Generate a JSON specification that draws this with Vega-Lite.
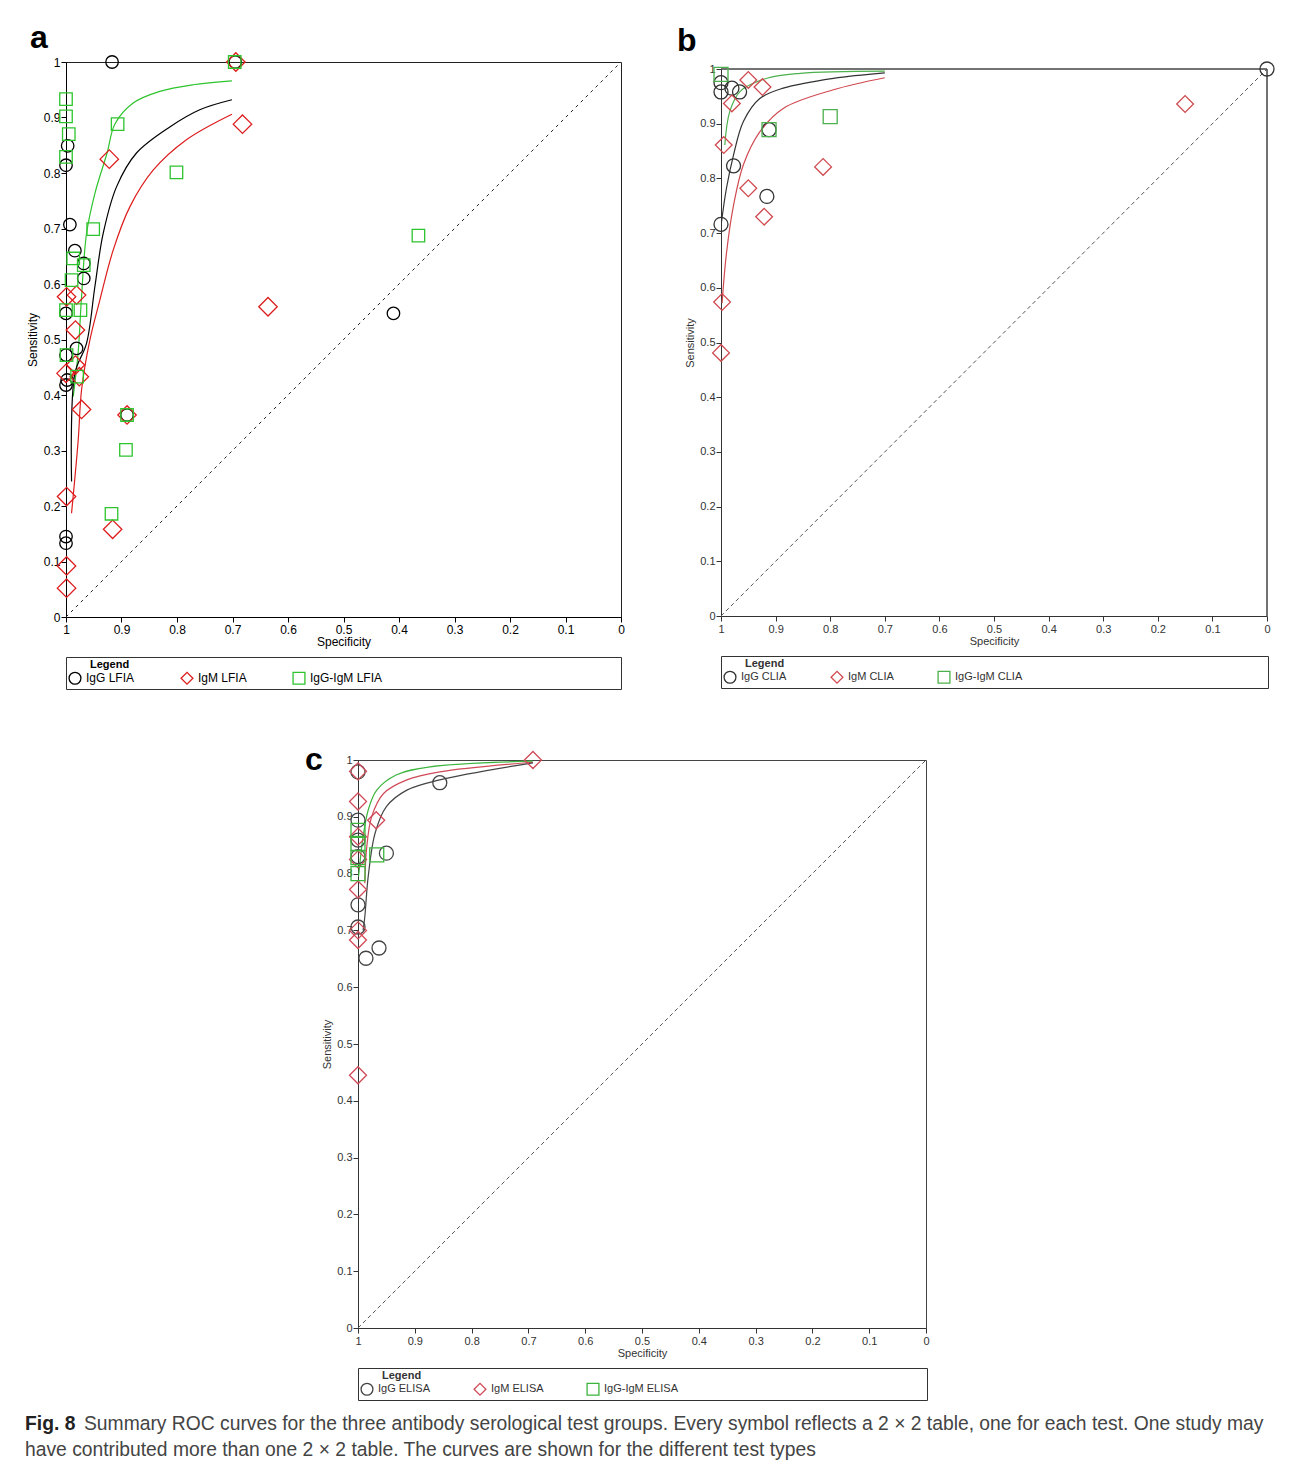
{
  "$schema": "https://vega.github.io/schema/vega-lite/v6.json",
  "background": "white",
  "padding": {"left": 25, "top": 21, "right": 0, "bottom": 0},
  "autosize": {"type": "pad"},
  "config": {
    "font": "Liberation Sans",
    "view": {"stroke": "#333"},
    "axis": {"grid": false, "domainColor": "#000", "tickColor": "#000", "labelColor": "#000", "titleColor": "#000", "labelFontSize": 12, "titleFontSize": 12, "titleFontWeight": "normal", "tickSize": 5, "labelPadding": 2, "labelOverlap": false, "labelFlush": false, "labelFont": "Liberation Sans", "titleFont": "Liberation Sans"},
    "legend": {"orient": "bottom", "direction": "horizontal", "strokeColor": "#333", "padding": 2, "offset": 10, "titleFontSize": 11, "titleFontWeight": "bold", "titleColor": "#000", "titlePadding": 1, "labelFontSize": 12, "labelColor": "#000", "symbolSize": 140, "symbolStrokeWidth": 1.3, "gridAlign": "all", "columnPadding": 19, "titleLimit": 2000, "labelLimit": 300},
    "title": {"anchor": "start", "frame": "group", "fontSize": 32, "fontWeight": "bold", "color": "#000", "font": "Liberation Sans"}
  },
  "datasets": {
    "diag": [{"spec": 1, "sens": 0}, {"spec": 0, "sens": 1}],
    "ptsA": [
      {"test": "IgG LFIA", "spec": 0.917, "sens": 1.0},
      {"test": "IgG LFIA", "spec": 0.695, "sens": 1.0},
      {"test": "IgG LFIA", "spec": 0.997, "sens": 0.849},
      {"test": "IgG LFIA", "spec": 1.0, "sens": 0.814},
      {"test": "IgG LFIA", "spec": 0.993, "sens": 0.707},
      {"test": "IgG LFIA", "spec": 0.984, "sens": 0.66},
      {"test": "IgG LFIA", "spec": 0.968, "sens": 0.637},
      {"test": "IgG LFIA", "spec": 0.968, "sens": 0.61},
      {"test": "IgG LFIA", "spec": 1.0, "sens": 0.547},
      {"test": "IgG LFIA", "spec": 0.981, "sens": 0.484},
      {"test": "IgG LFIA", "spec": 1.0, "sens": 0.472},
      {"test": "IgG LFIA", "spec": 0.998, "sens": 0.427},
      {"test": "IgG LFIA", "spec": 1.0, "sens": 0.418},
      {"test": "IgG LFIA", "spec": 0.89, "sens": 0.364},
      {"test": "IgG LFIA", "spec": 1.0, "sens": 0.145},
      {"test": "IgG LFIA", "spec": 1.0, "sens": 0.133},
      {"test": "IgG LFIA", "spec": 0.41, "sens": 0.547},
      {"test": "IgM LFIA", "spec": 0.694, "sens": 1.0},
      {"test": "IgM LFIA", "spec": 0.682, "sens": 0.888},
      {"test": "IgM LFIA", "spec": 0.922, "sens": 0.825},
      {"test": "IgM LFIA", "spec": 0.636, "sens": 0.559},
      {"test": "IgM LFIA", "spec": 0.999, "sens": 0.577},
      {"test": "IgM LFIA", "spec": 0.981, "sens": 0.58},
      {"test": "IgM LFIA", "spec": 0.983, "sens": 0.517},
      {"test": "IgM LFIA", "spec": 0.983, "sens": 0.454},
      {"test": "IgM LFIA", "spec": 1.0, "sens": 0.439},
      {"test": "IgM LFIA", "spec": 0.976, "sens": 0.433},
      {"test": "IgM LFIA", "spec": 0.972, "sens": 0.374},
      {"test": "IgM LFIA", "spec": 0.89, "sens": 0.364},
      {"test": "IgM LFIA", "spec": 0.999, "sens": 0.217},
      {"test": "IgM LFIA", "spec": 0.916, "sens": 0.158},
      {"test": "IgM LFIA", "spec": 0.999, "sens": 0.092},
      {"test": "IgM LFIA", "spec": 0.999, "sens": 0.052},
      {"test": "IgG-IgM LFIA", "spec": 0.696, "sens": 1.0},
      {"test": "IgG-IgM LFIA", "spec": 1.0, "sens": 0.933},
      {"test": "IgG-IgM LFIA", "spec": 1.0, "sens": 0.902},
      {"test": "IgG-IgM LFIA", "spec": 0.995, "sens": 0.87},
      {"test": "IgG-IgM LFIA", "spec": 1.0, "sens": 0.829},
      {"test": "IgG-IgM LFIA", "spec": 0.907, "sens": 0.888},
      {"test": "IgG-IgM LFIA", "spec": 0.801, "sens": 0.801},
      {"test": "IgG-IgM LFIA", "spec": 0.951, "sens": 0.699},
      {"test": "IgG-IgM LFIA", "spec": 0.987, "sens": 0.646},
      {"test": "IgG-IgM LFIA", "spec": 0.968, "sens": 0.634},
      {"test": "IgG-IgM LFIA", "spec": 0.99, "sens": 0.607},
      {"test": "IgG-IgM LFIA", "spec": 1.0, "sens": 0.553},
      {"test": "IgG-IgM LFIA", "spec": 0.974, "sens": 0.553},
      {"test": "IgG-IgM LFIA", "spec": 0.999, "sens": 0.472},
      {"test": "IgG-IgM LFIA", "spec": 0.98, "sens": 0.433},
      {"test": "IgG-IgM LFIA", "spec": 0.89, "sens": 0.364},
      {"test": "IgG-IgM LFIA", "spec": 0.892, "sens": 0.301},
      {"test": "IgG-IgM LFIA", "spec": 0.918, "sens": 0.186},
      {"test": "IgG-IgM LFIA", "spec": 0.365, "sens": 0.687}
    ],
    "curA": [
      {"test": "IgG-IgM LFIA", "spec": 0.987, "sens": 0.397},
      {"test": "IgG-IgM LFIA", "spec": 0.978, "sens": 0.478},
      {"test": "IgG-IgM LFIA", "spec": 0.972, "sens": 0.577},
      {"test": "IgG-IgM LFIA", "spec": 0.963, "sens": 0.691},
      {"test": "IgG-IgM LFIA", "spec": 0.948, "sens": 0.763},
      {"test": "IgG-IgM LFIA", "spec": 0.926, "sens": 0.836},
      {"test": "IgG-IgM LFIA", "spec": 0.912, "sens": 0.888},
      {"test": "IgG-IgM LFIA", "spec": 0.879, "sens": 0.926},
      {"test": "IgG-IgM LFIA", "spec": 0.831, "sens": 0.947},
      {"test": "IgG-IgM LFIA", "spec": 0.771, "sens": 0.959},
      {"test": "IgG-IgM LFIA", "spec": 0.701, "sens": 0.966},
      {"test": "IgG LFIA", "spec": 0.990, "sens": 0.244},
      {"test": "IgG LFIA", "spec": 0.984, "sens": 0.439},
      {"test": "IgG LFIA", "spec": 0.963, "sens": 0.493},
      {"test": "IgG LFIA", "spec": 0.948, "sens": 0.595},
      {"test": "IgG LFIA", "spec": 0.933, "sens": 0.691},
      {"test": "IgG LFIA", "spec": 0.909, "sens": 0.775},
      {"test": "IgG LFIA", "spec": 0.873, "sens": 0.836},
      {"test": "IgG LFIA", "spec": 0.813, "sens": 0.883},
      {"test": "IgG LFIA", "spec": 0.759, "sens": 0.914},
      {"test": "IgG LFIA", "spec": 0.701, "sens": 0.932},
      {"test": "IgM LFIA", "spec": 0.990, "sens": 0.187},
      {"test": "IgM LFIA", "spec": 0.978, "sens": 0.319},
      {"test": "IgM LFIA", "spec": 0.972, "sens": 0.409},
      {"test": "IgM LFIA", "spec": 0.957, "sens": 0.499},
      {"test": "IgM LFIA", "spec": 0.939, "sens": 0.571},
      {"test": "IgM LFIA", "spec": 0.915, "sens": 0.661},
      {"test": "IgM LFIA", "spec": 0.885, "sens": 0.739},
      {"test": "IgM LFIA", "spec": 0.843, "sens": 0.805},
      {"test": "IgM LFIA", "spec": 0.783, "sens": 0.860},
      {"test": "IgM LFIA", "spec": 0.701, "sens": 0.906}
    ],
    "ptsB": [
      {"test": "IgG CLIA", "spec": 1.0, "sens": 0.975},
      {"test": "IgG CLIA", "spec": 1.0, "sens": 0.958},
      {"test": "IgG CLIA", "spec": 0.98, "sens": 0.965},
      {"test": "IgG CLIA", "spec": 0.966, "sens": 0.958},
      {"test": "IgG CLIA", "spec": 0.912, "sens": 0.889},
      {"test": "IgG CLIA", "spec": 0.977, "sens": 0.823},
      {"test": "IgG CLIA", "spec": 0.916, "sens": 0.767},
      {"test": "IgG CLIA", "spec": 1.0, "sens": 0.716},
      {"test": "IgG CLIA", "spec": 0.0, "sens": 1.0},
      {"test": "IgM CLIA", "spec": 0.95, "sens": 0.98},
      {"test": "IgM CLIA", "spec": 0.924, "sens": 0.967},
      {"test": "IgM CLIA", "spec": 0.98, "sens": 0.937},
      {"test": "IgM CLIA", "spec": 0.995, "sens": 0.861},
      {"test": "IgM CLIA", "spec": 0.813, "sens": 0.821},
      {"test": "IgM CLIA", "spec": 0.95, "sens": 0.782},
      {"test": "IgM CLIA", "spec": 0.921, "sens": 0.73},
      {"test": "IgM CLIA", "spec": 0.998, "sens": 0.574},
      {"test": "IgM CLIA", "spec": 1.0, "sens": 0.481},
      {"test": "IgM CLIA", "spec": 0.15, "sens": 0.936},
      {"test": "IgG-IgM CLIA", "spec": 1.0, "sens": 0.99},
      {"test": "IgG-IgM CLIA", "spec": 0.912, "sens": 0.889},
      {"test": "IgG-IgM CLIA", "spec": 0.80, "sens": 0.913}
    ],
    "curB": [
      {"test": "IgG-IgM CLIA", "spec": 0.993, "sens": 0.861},
      {"test": "IgG-IgM CLIA", "spec": 0.984, "sens": 0.922},
      {"test": "IgG-IgM CLIA", "spec": 0.965, "sens": 0.959},
      {"test": "IgG-IgM CLIA", "spec": 0.916, "sens": 0.983},
      {"test": "IgG-IgM CLIA", "spec": 0.855, "sens": 0.992},
      {"test": "IgG-IgM CLIA", "spec": 0.70, "sens": 0.996},
      {"test": "IgG CLIA", "spec": 0.999, "sens": 0.721},
      {"test": "IgG CLIA", "spec": 0.990, "sens": 0.782},
      {"test": "IgG CLIA", "spec": 0.977, "sens": 0.843},
      {"test": "IgG CLIA", "spec": 0.959, "sens": 0.904},
      {"test": "IgG CLIA", "spec": 0.929, "sens": 0.946},
      {"test": "IgG CLIA", "spec": 0.886, "sens": 0.965},
      {"test": "IgG CLIA", "spec": 0.794, "sens": 0.983},
      {"test": "IgG CLIA", "spec": 0.70, "sens": 0.993},
      {"test": "IgM CLIA", "spec": 0.998, "sens": 0.572},
      {"test": "IgM CLIA", "spec": 0.990, "sens": 0.663},
      {"test": "IgM CLIA", "spec": 0.977, "sens": 0.751},
      {"test": "IgM CLIA", "spec": 0.959, "sens": 0.825},
      {"test": "IgM CLIA", "spec": 0.929, "sens": 0.885},
      {"test": "IgM CLIA", "spec": 0.886, "sens": 0.928},
      {"test": "IgM CLIA", "spec": 0.794, "sens": 0.962},
      {"test": "IgM CLIA", "spec": 0.70, "sens": 0.984}
    ],
    "ptsC": [
      {"test": "IgG ELISA", "spec": 1.0, "sens": 0.979},
      {"test": "IgG ELISA", "spec": 1.0, "sens": 0.894},
      {"test": "IgG ELISA", "spec": 1.0, "sens": 0.859},
      {"test": "IgG ELISA", "spec": 1.0, "sens": 0.83},
      {"test": "IgG ELISA", "spec": 0.95, "sens": 0.836},
      {"test": "IgG ELISA", "spec": 1.0, "sens": 0.745},
      {"test": "IgG ELISA", "spec": 1.0, "sens": 0.706},
      {"test": "IgG ELISA", "spec": 0.963, "sens": 0.669},
      {"test": "IgG ELISA", "spec": 0.986, "sens": 0.651},
      {"test": "IgG ELISA", "spec": 0.856, "sens": 0.96},
      {"test": "IgM ELISA", "spec": 1.0, "sens": 0.98},
      {"test": "IgM ELISA", "spec": 1.0, "sens": 0.927},
      {"test": "IgM ELISA", "spec": 0.968, "sens": 0.894},
      {"test": "IgM ELISA", "spec": 1.0, "sens": 0.865},
      {"test": "IgM ELISA", "spec": 1.0, "sens": 0.825},
      {"test": "IgM ELISA", "spec": 1.0, "sens": 0.772},
      {"test": "IgM ELISA", "spec": 1.0, "sens": 0.70},
      {"test": "IgM ELISA", "spec": 1.0, "sens": 0.683},
      {"test": "IgM ELISA", "spec": 1.0, "sens": 0.445},
      {"test": "IgM ELISA", "spec": 0.692, "sens": 1.0},
      {"test": "IgG-IgM ELISA", "spec": 1.0, "sens": 0.876},
      {"test": "IgG-IgM ELISA", "spec": 1.0, "sens": 0.853},
      {"test": "IgG-IgM ELISA", "spec": 1.0, "sens": 0.828},
      {"test": "IgG-IgM ELISA", "spec": 1.0, "sens": 0.80},
      {"test": "IgG-IgM ELISA", "spec": 0.967, "sens": 0.833}
    ],
    "curC": [
      {"test": "IgG-IgM ELISA", "spec": 0.999, "sens": 0.795},
      {"test": "IgG-IgM ELISA", "spec": 0.991, "sens": 0.865},
      {"test": "IgG-IgM ELISA", "spec": 0.982, "sens": 0.912},
      {"test": "IgG-IgM ELISA", "spec": 0.967, "sens": 0.947},
      {"test": "IgG-IgM ELISA", "spec": 0.932, "sens": 0.974},
      {"test": "IgG-IgM ELISA", "spec": 0.873, "sens": 0.988},
      {"test": "IgG-IgM ELISA", "spec": 0.692, "sens": 0.998},
      {"test": "IgM ELISA", "spec": 0.988, "sens": 0.783},
      {"test": "IgM ELISA", "spec": 0.985, "sens": 0.842},
      {"test": "IgM ELISA", "spec": 0.976, "sens": 0.900},
      {"test": "IgM ELISA", "spec": 0.955, "sens": 0.941},
      {"test": "IgM ELISA", "spec": 0.914, "sens": 0.965},
      {"test": "IgM ELISA", "spec": 0.856, "sens": 0.979},
      {"test": "IgM ELISA", "spec": 0.692, "sens": 0.996},
      {"test": "IgG ELISA", "spec": 0.991, "sens": 0.700},
      {"test": "IgG ELISA", "spec": 0.988, "sens": 0.724},
      {"test": "IgG ELISA", "spec": 0.982, "sens": 0.795},
      {"test": "IgG ELISA", "spec": 0.970, "sens": 0.871},
      {"test": "IgG ELISA", "spec": 0.950, "sens": 0.918},
      {"test": "IgG ELISA", "spec": 0.914, "sens": 0.947},
      {"test": "IgG ELISA", "spec": 0.856, "sens": 0.965},
      {"test": "IgG ELISA", "spec": 0.692, "sens": 0.995}
    ],
    "caption": [
      {"line": 1, "part": "label", "text": "Fig. 8"},
      {"line": 1, "part": "body", "text": "Summary ROC curves for the three antibody serological test groups. Every symbol reflects a 2 × 2 table, one for each test. One study may"},
      {"line": 2, "part": "body", "text": "have contributed more than one 2 × 2 table. The curves are shown for the different test types"}
    ]
  },
  "columns": 1,
  "align": "none",
  "spacing": 10,
  "resolve": {"scale": {"color": "independent", "shape": "independent"}, "legend": {"color": "independent", "shape": "independent"}},
  "concat": [
    {
      "columns": 1,
      "align": "none",
      "spacing": 53,
      "resolve": {"scale": {"color": "independent", "shape": "independent"}, "legend": {"color": "independent", "shape": "independent"}},
      "concat": [
        {
          "columns": 2,
          "align": "none",
          "spacing": 52,
          "resolve": {"scale": {"color": "independent", "shape": "independent"}, "legend": {"color": "independent", "shape": "independent"}},
          "concat": [
            {
              "width": 555, "height": 555,
              "title": {"text": "a", "dx": -36, "offset": -5},
              "view": {"stroke": "#222"},
              "encoding": {
                "x": {"field": "spec", "type": "quantitative", "scale": {"domain": [0, 1], "reverse": true, "nice": false, "zero": false}, "axis": {"title": "Specificity", "values": [0, 0.1, 0.2, 0.3, 0.4, 0.5, 0.6, 0.7, 0.8, 0.9, 1], "format": "~g", "titlePadding": 1}},
                "y": {"field": "sens", "type": "quantitative", "scale": {"domain": [0, 1], "nice": false, "zero": false}, "axis": {"title": "Sensitivity", "values": [0, 0.1, 0.2, 0.3, 0.4, 0.5, 0.6, 0.7, 0.8, 0.9, 1], "format": "~g", "titlePadding": 4, "labelPadding": 1}}
              },
              "layer": [
                {"data": {"name": "diag"}, "mark": {"type": "line", "color": "#222", "strokeWidth": 1, "strokeDash": [3, 4]}, "encoding": {}},
                {"data": {"name": "curA"}, "mark": {"type": "line", "strokeWidth": 1.2, "interpolate": "catmull-rom"},
                 "encoding": {"detail": {"field": "test", "type": "nominal"}, "stroke": {"condition": [{"test": "datum.test == 'IgM LFIA'", "value": "#dd1c1c"}, {"test": "datum.test == 'IgG-IgM LFIA'", "value": "#2ec42e"}], "value": "#000000"}}},
                {"data": {"name": "ptsA"}, "mark": {"type": "point", "filled": false, "opacity": 1, "strokeWidth": 1.3},
                 "encoding": {
                   "color": {"field": "test", "type": "nominal", "scale": {"domain": ["IgG LFIA", "IgM LFIA", "IgG-IgM LFIA"], "range": ["#000000", "#dd1c1c", "#2ec42e"]}, "legend": {"title": "\u200b\u2003\u2003Legend\u2003\u2003\u2003\u2003\u2003\u2003\u2003\u2003\u2003\u2003\u2003\u2003\u2003\u2003\u2003\u2003\u2003\u2003\u2003\u2003\u2003\u2003\u2003\u2003\u2003\u2003\u2003\u2003\u2003\u2003\u2003\u2003\u2003\u2003\u2003\u2003\u2003\u2003\u2003\u2003\u2003\u2003\u2003\u2003\u2002\u200b"}},
                   "shape": {"field": "test", "type": "nominal", "scale": {"domain": ["IgG LFIA", "IgM LFIA", "IgG-IgM LFIA"], "range": ["circle", "diamond", "square"]}, "legend": {"title": "\u200b\u2003\u2003Legend\u2003\u2003\u2003\u2003\u2003\u2003\u2003\u2003\u2003\u2003\u2003\u2003\u2003\u2003\u2003\u2003\u2003\u2003\u2003\u2003\u2003\u2003\u2003\u2003\u2003\u2003\u2003\u2003\u2003\u2003\u2003\u2003\u2003\u2003\u2003\u2003\u2003\u2003\u2003\u2003\u2003\u2003\u2003\u2003\u2002\u200b"}},
                   "size": {"condition": {"test": "datum.test == 'IgM LFIA'", "value": 340}, "value": 156}
                 }}
              ]
            },
            {
              "width": 546, "height": 554,
              "title": {"text": "b", "dx": -44, "offset": 1},
              "view": {"stroke": null},
              "encoding": {
                "x": {"field": "spec", "type": "quantitative", "scale": {"domain": [0, 1], "reverse": true, "nice": false, "zero": false}, "axis": {"title": "Specificity", "values": [0, 0.1, 0.2, 0.3, 0.4, 0.5, 0.6, 0.7, 0.8, 0.9, 1], "format": "~g", "titlePadding": 1, "labelFontSize": 11, "titleFontSize": 11, "labelColor": "#333", "titleColor": "#333", "domainColor": "#333", "tickColor": "#333"}},
                "y": {"field": "sens", "type": "quantitative", "scale": {"domain": [0, 1], "range": [554, 7], "nice": false, "zero": false}, "axis": {"title": "Sensitivity", "values": [0, 0.1, 0.2, 0.3, 0.4, 0.5, 0.6, 0.7, 0.8, 0.9, 1], "format": "~g", "titlePadding": 4, "labelPadding": 1, "labelFontSize": 11, "titleFontSize": 11, "labelColor": "#333", "titleColor": "#333", "domainColor": "#333", "tickColor": "#333"}}
              },
              "layer": [
                {"data": {"name": "diag"}, "mark": {"type": "rule", "color": "#444", "strokeWidth": 1}, "encoding": {"y": {"datum": 1, "type": "quantitative"}, "x": {"datum": 1, "type": "quantitative"}, "x2": {"datum": 0}}},
                {"data": {"name": "diag"}, "mark": {"type": "rule", "color": "#444", "strokeWidth": 1}, "encoding": {"x": {"datum": 0, "type": "quantitative"}, "y": {"datum": 0, "type": "quantitative"}, "y2": {"datum": 1}}},
                {"data": {"name": "diag"}, "mark": {"type": "line", "color": "#555", "strokeWidth": 1, "strokeDash": [4, 3]}, "encoding": {}},
                {"data": {"name": "curB"}, "mark": {"type": "line", "strokeWidth": 1.2, "interpolate": "catmull-rom"},
                 "encoding": {"detail": {"field": "test", "type": "nominal"}, "stroke": {"condition": [{"test": "datum.test == 'IgM CLIA'", "value": "#d04a50"}, {"test": "datum.test == 'IgG-IgM CLIA'", "value": "#4cb04c"}], "value": "#333333"}}},
                {"data": {"name": "ptsB"}, "mark": {"type": "point", "filled": false, "opacity": 1, "strokeWidth": 1.3},
                 "encoding": {
                   "color": {"field": "test", "type": "nominal", "scale": {"domain": ["IgG CLIA", "IgM CLIA", "IgG-IgM CLIA"], "range": ["#333333", "#d04a50", "#4cb04c"]}, "legend": {"title": "\u200b\u2003\u2003Legend\u2003\u2003\u2003\u2003\u2003\u2003\u2003\u2003\u2003\u2003\u2003\u2003\u2003\u2003\u2003\u2003\u2003\u2003\u2003\u2003\u2003\u2003\u2003\u2003\u2003\u2003\u2003\u2003\u2003\u2003\u2003\u2003\u2003\u2003\u2003\u2003\u2003\u2003\u2003\u2003\u2003\u2003\u2003\u2002\u2005\u200b", "labelFontSize": 11, "labelColor": "#333", "titleColor": "#333"}},
                   "shape": {"field": "test", "type": "nominal", "scale": {"domain": ["IgG CLIA", "IgM CLIA", "IgG-IgM CLIA"], "range": ["circle", "diamond", "square"]}, "legend": {"title": "\u200b\u2003\u2003Legend\u2003\u2003\u2003\u2003\u2003\u2003\u2003\u2003\u2003\u2003\u2003\u2003\u2003\u2003\u2003\u2003\u2003\u2003\u2003\u2003\u2003\u2003\u2003\u2003\u2003\u2003\u2003\u2003\u2003\u2003\u2003\u2003\u2003\u2003\u2003\u2003\u2003\u2003\u2003\u2003\u2003\u2003\u2003\u2002\u2005\u200b", "labelFontSize": 11, "labelColor": "#333", "titleColor": "#333"}},
                   "size": {"condition": {"test": "datum.test == 'IgM CLIA'", "value": 280}, "value": 196}
                 }}
              ]
            }
          ]
        },
        {
          "columns": 2,
          "align": "none",
          "spacing": 0,
          "resolve": {"scale": {"color": "independent", "shape": "independent"}, "legend": {"color": "independent", "shape": "independent"}},
          "concat": [
            {"width": 238, "height": 1, "data": {"values": []}, "mark": {"type": "point", "opacity": 0}, "view": {"stroke": null}},
            {
              "width": 568, "height": 568,
              "title": {"text": "c", "dx": -53, "offset": -28},
              "view": {"stroke": "#444"},
              "encoding": {
                "x": {"field": "spec", "type": "quantitative", "scale": {"domain": [0, 1], "reverse": true, "nice": false, "zero": false}, "axis": {"title": "Specificity", "values": [0, 0.1, 0.2, 0.3, 0.4, 0.5, 0.6, 0.7, 0.8, 0.9, 1], "format": "~g", "titlePadding": 1, "labelFontSize": 11, "titleFontSize": 11, "labelColor": "#333", "titleColor": "#333", "domainColor": "#333", "tickColor": "#333"}},
                "y": {"field": "sens", "type": "quantitative", "scale": {"domain": [0, 1], "nice": false, "zero": false}, "axis": {"title": "Sensitivity", "values": [0, 0.1, 0.2, 0.3, 0.4, 0.5, 0.6, 0.7, 0.8, 0.9, 1], "format": "~g", "titlePadding": 4, "labelPadding": 1, "labelFontSize": 11, "titleFontSize": 11, "labelColor": "#333", "titleColor": "#333", "domainColor": "#333", "tickColor": "#333"}}
              },
              "layer": [
                {"data": {"name": "diag"}, "mark": {"type": "line", "color": "#555", "strokeWidth": 1, "strokeDash": [4, 3]}, "encoding": {}},
                {"data": {"name": "curC"}, "mark": {"type": "line", "strokeWidth": 1.2, "interpolate": "catmull-rom"},
                 "encoding": {"detail": {"field": "test", "type": "nominal"}, "stroke": {"condition": [{"test": "datum.test == 'IgM ELISA'", "value": "#d04a58"}, {"test": "datum.test == 'IgG-IgM ELISA'", "value": "#3cb43c"}], "value": "#444444"}}},
                {"data": {"name": "ptsC"}, "mark": {"type": "point", "filled": false, "opacity": 1, "strokeWidth": 1.3},
                 "encoding": {
                   "color": {"field": "test", "type": "nominal", "scale": {"domain": ["IgG ELISA", "IgM ELISA", "IgG-IgM ELISA"], "range": ["#444444", "#d04a58", "#3cb43c"]}, "legend": {"title": "\u200b\u2003\u2003Legend\u2003\u2003\u2003\u2003\u2003\u2003\u2003\u2003\u2003\u2003\u2003\u2003\u2003\u2003\u2003\u2003\u2003\u2003\u2003\u2003\u2003\u2003\u2003\u2003\u2003\u2003\u2003\u2003\u2003\u2003\u2003\u2003\u2003\u2003\u2003\u2003\u2003\u2003\u2003\u2003\u2003\u2003\u2003\u2003\u2003\u2002\u2005\u200b", "labelFontSize": 11, "labelColor": "#333", "titleColor": "#333"}},
                   "shape": {"field": "test", "type": "nominal", "scale": {"domain": ["IgG ELISA", "IgM ELISA", "IgG-IgM ELISA"], "range": ["circle", "diamond", "square"]}, "legend": {"title": "\u200b\u2003\u2003Legend\u2003\u2003\u2003\u2003\u2003\u2003\u2003\u2003\u2003\u2003\u2003\u2003\u2003\u2003\u2003\u2003\u2003\u2003\u2003\u2003\u2003\u2003\u2003\u2003\u2003\u2003\u2003\u2003\u2003\u2003\u2003\u2003\u2003\u2003\u2003\u2003\u2003\u2003\u2003\u2003\u2003\u2003\u2003\u2003\u2003\u2002\u2005\u200b", "labelFontSize": 11, "labelColor": "#333", "titleColor": "#333"}},
                   "size": {"condition": {"test": "datum.test == 'IgM ELISA'", "value": 290}, "value": 196}
                 }}
              ]
            }
          ]
        }
      ]
    },
    {
      "width": 1245, "height": 52,
      "view": {"stroke": null},
      "data": {"name": "caption"},
      "encoding": {
        "y": {"field": "line", "type": "ordinal", "axis": null},
        "x": {"datum": 0, "type": "quantitative", "scale": {"domain": [0, 1]}, "axis": null},
        "text": {"field": "text", "type": "nominal"}
      },
      "layer": [
        {"transform": [{"filter": "datum.part == 'label'"}], "mark": {"type": "text", "align": "left", "baseline": "middle", "dx": -41, "fontWeight": "bold", "fontSize": 19.3, "font": "Liberation Sans", "color": "#222"}},
        {"transform": [{"filter": "datum.part == 'body' && datum.line == 1"}], "mark": {"type": "text", "align": "left", "baseline": "middle", "dx": 18, "fontSize": 19.3, "font": "Liberation Sans", "color": "#444"}},
        {"transform": [{"filter": "datum.line == 2"}], "mark": {"type": "text", "align": "left", "baseline": "middle", "dx": -41, "fontSize": 19.3, "font": "Liberation Sans", "color": "#444"}}
      ]
    }
  ]
}
